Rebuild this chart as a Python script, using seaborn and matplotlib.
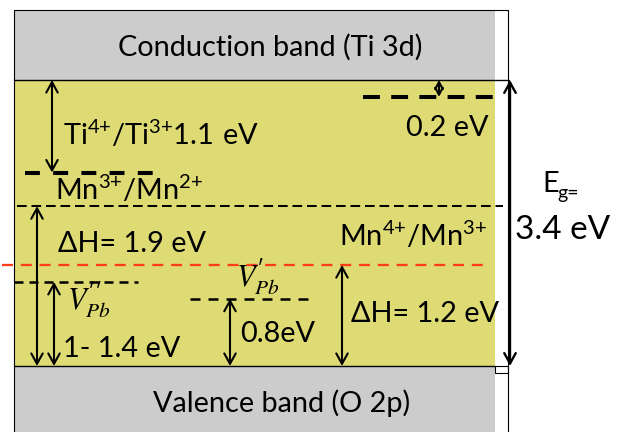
import matplotlib
matplotlib.use("Agg")
import matplotlib.pyplot as plt
import matplotlib.transforms as mtransforms
from matplotlib.patches import Rectangle, FancyArrowPatch, ArrowStyle
import seaborn as sns

# ---------------------------------------------------------------
# Band structure of Mn-doped PbTiO3 (energies in eV, VB top = 0)
# ---------------------------------------------------------------
band_gap = 3.4
band_names = ["Conduction band (Ti 3d)", "Valence band (O 2p)"]

# Defect / dopant levels and the band edge each gap is measured from
level_names = ["Ti4+/Ti3+", "shallow", "Mn3+/Mn2+", "Mn4+/Mn3+", "V''Pb", "V'Pb"]
level_edge = ["CB", "CB", "VB", "VB", "VB", "VB"]
level_gap = [1.1, 0.2, 1.9, 1.2, 1.0, 0.8]

level_energy = [band_gap - g if edge == "CB" else g
                for g, edge in zip(level_gap, level_edge)]

# ---------------------------------------------------------------
# Drawing styles (layout only)
# ---------------------------------------------------------------
W, H = 617, 432
VB_PX, CB_PX = 366, 80
PX_PER_EV = (VB_PX - CB_PX) / band_gap


def e_of_px(py):
    return (VB_PX - py) / PX_PER_EV


YELLOW = "#dedb74"
GREY = "#cccccc"
RED = "#ff3d17"
BOX_L, BOX_R, FILL_R = 13.5, 507.5, 495

line_style = {
    "Ti4+/Ti3+": dict(x0=25, x1=153, lw=2.9, dash=(3.7, 3.3), color="black", ax_x=52, head=7.5),
    "shallow":   dict(x0=363, x1=493, lw=2.9, dash=(4.2, 2.8), color="black", ax_x=439, head=5.0),
    "Mn3+/Mn2+": dict(x0=17, x1=503, lw=1.45, dash=(4.8, 2.4), color="black", ax_x=37, head=7.5),
    "Mn4+/Mn3+": dict(x0=2, x1=486, lw=1.65, dash=(4.8, 3.4), color=RED, ax_x=342, head=7.5),
    "V''Pb":     dict(x0=13.5, x1=138, lw=1.8, dash=(3.6, 2.4), color="black", ax_x=54, head=7.5),
    "V'Pb":      dict(x0=190, x1=316, lw=1.8, dash=(4.0, 3.2), color="black", ax_x=230, head=7.5),
}

sns.set_theme(style="white")
plt.rcParams["font.family"] = ["Lato", "DejaVu Sans"]
plt.rcParams["mathtext.default"] = "regular"

fig = plt.figure(figsize=(W / 100, H / 100), dpi=100)
ax = fig.add_axes([0, 0, 1, 1])
ax.set_xlim(0, W)
ax.set_ylim(e_of_px(H), e_of_px(0))
ax.set_axis_off()

# pixel transform (origin top-left) for label placement
px = mtransforms.Affine2D().scale(1 / W, -1 / H).translate(0, 1) + fig.transFigure

# band regions
top_e, bot_e = e_of_px(9.5), e_of_px(H + 5)
ax.add_patch(Rectangle((BOX_L, 0), FILL_R - BOX_L, band_gap, fc=YELLOW, ec="none", zorder=0))
ax.add_patch(Rectangle((BOX_L, band_gap), FILL_R - BOX_L, top_e - band_gap, fc=GREY, ec="none", zorder=0))
ax.add_patch(Rectangle((BOX_L, bot_e), FILL_R - BOX_L, 0 - bot_e, fc=GREY, ec="none", zorder=0))
ax.add_patch(Rectangle((BOX_L, bot_e), BOX_R - BOX_L, top_e - bot_e, fc="none", ec="black",
                       lw=0.8, zorder=3, clip_on=False))
ax.add_patch(Rectangle((FILL_R, e_of_px(373)), BOX_R - FILL_R, 0 - e_of_px(373), fc="none",
                       ec="black", lw=0.8, zorder=3))

# band edges
sns.lineplot(x=[BOX_L, BOX_R + 1], y=[band_gap, band_gap], ax=ax, color="black", lw=1.0, zorder=3)
sns.lineplot(x=[BOX_L, FILL_R], y=[0, 0], ax=ax, color="black", lw=1.0, zorder=3)

# defect levels
for name, e in zip(level_names, level_energy):
    st = line_style[name]
    sns.lineplot(x=[st["x0"], st["x1"]], y=[e, e], ax=ax, color=st["color"], lw=st["lw"],
                 linestyle=(0, st["dash"]), dash_capstyle="butt", zorder=4)


def gap_arrow(x, e0, e1, lw=1.5, head=7.5):
    arr = FancyArrowPatch((x, e0), (x, e1),
                          arrowstyle=ArrowStyle("<->", head_length=head, head_width=head * 0.55),
                          mutation_scale=1, lw=lw, color="black", shrinkA=0, shrinkB=0,
                          zorder=5)
    ax.add_patch(arr)


# arrows from the reference band edge to each level
for name, e, edge in zip(level_names, level_energy, level_edge):
    ref = band_gap if edge == "CB" else 0.0
    gap_arrow(line_style[name]["ax_x"], ref, e, head=line_style[name]["head"])

# band gap arrow
gap_arrow(510, 0, band_gap, lw=1.7)

# labels
fs = 20.8
txt = dict(transform=px, va="baseline", fontsize=fs, color="black", zorder=6)
ax.text(270, 56, band_names[0], ha="center", **txt)
ax.text(282, 412, band_names[1], ha="center", **txt)
ax.text(63, 145, r"$Ti^{4{+}}/Ti^{3{+}}1.1\ eV$", ha="left", **txt)
ax.text(406, 136, "%.1f eV" % level_gap[1], ha="left", **txt)
ax.text(55, 200, r"$Mn^{3{+}}/Mn^{2{+}}$", ha="left", **txt)
ax.text(58, 252, "\u0394H= %.1f eV" % level_gap[2], ha="left", **txt)
ax.text(339, 246, r"$Mn^{4{+}}/Mn^{3{+}}$", ha="left", **txt)
ax.text(351, 322, "\u0394H= %.1f eV" % level_gap[3], ha="left", **txt)
ax.text(63, 357, "1- 1.4 eV", ha="left", **txt)
ax.text(240, 342, "%.1feV" % level_gap[5], ha="left", **txt)
ax.text(542, 192, "E", ha="left", **txt)
ax.text(557, 199, "g=", ha="left", transform=px, va="baseline", fontsize=14,
        color="black", zorder=6)
ax.text(515, 239, "%.1f eV" % band_gap, ha="left", transform=px, va="baseline",
        fontsize=24, color="black", zorder=6)

# vacancy symbols (italic V with charge primes and Pb site subscript)
vtxt = dict(transform=px, va="baseline", ha="left", fontsize=22, color="black", zorder=6,
            math_fontfamily="stix")
ax.text(67, 310, r"$\mathit{V}_{\mathit{Pb}}''$", **vtxt)
ax.text(236, 287, r"$\mathit{V}_{\mathit{Pb}}'$", **vtxt)

fig.savefig("out.png", dpi=100)
